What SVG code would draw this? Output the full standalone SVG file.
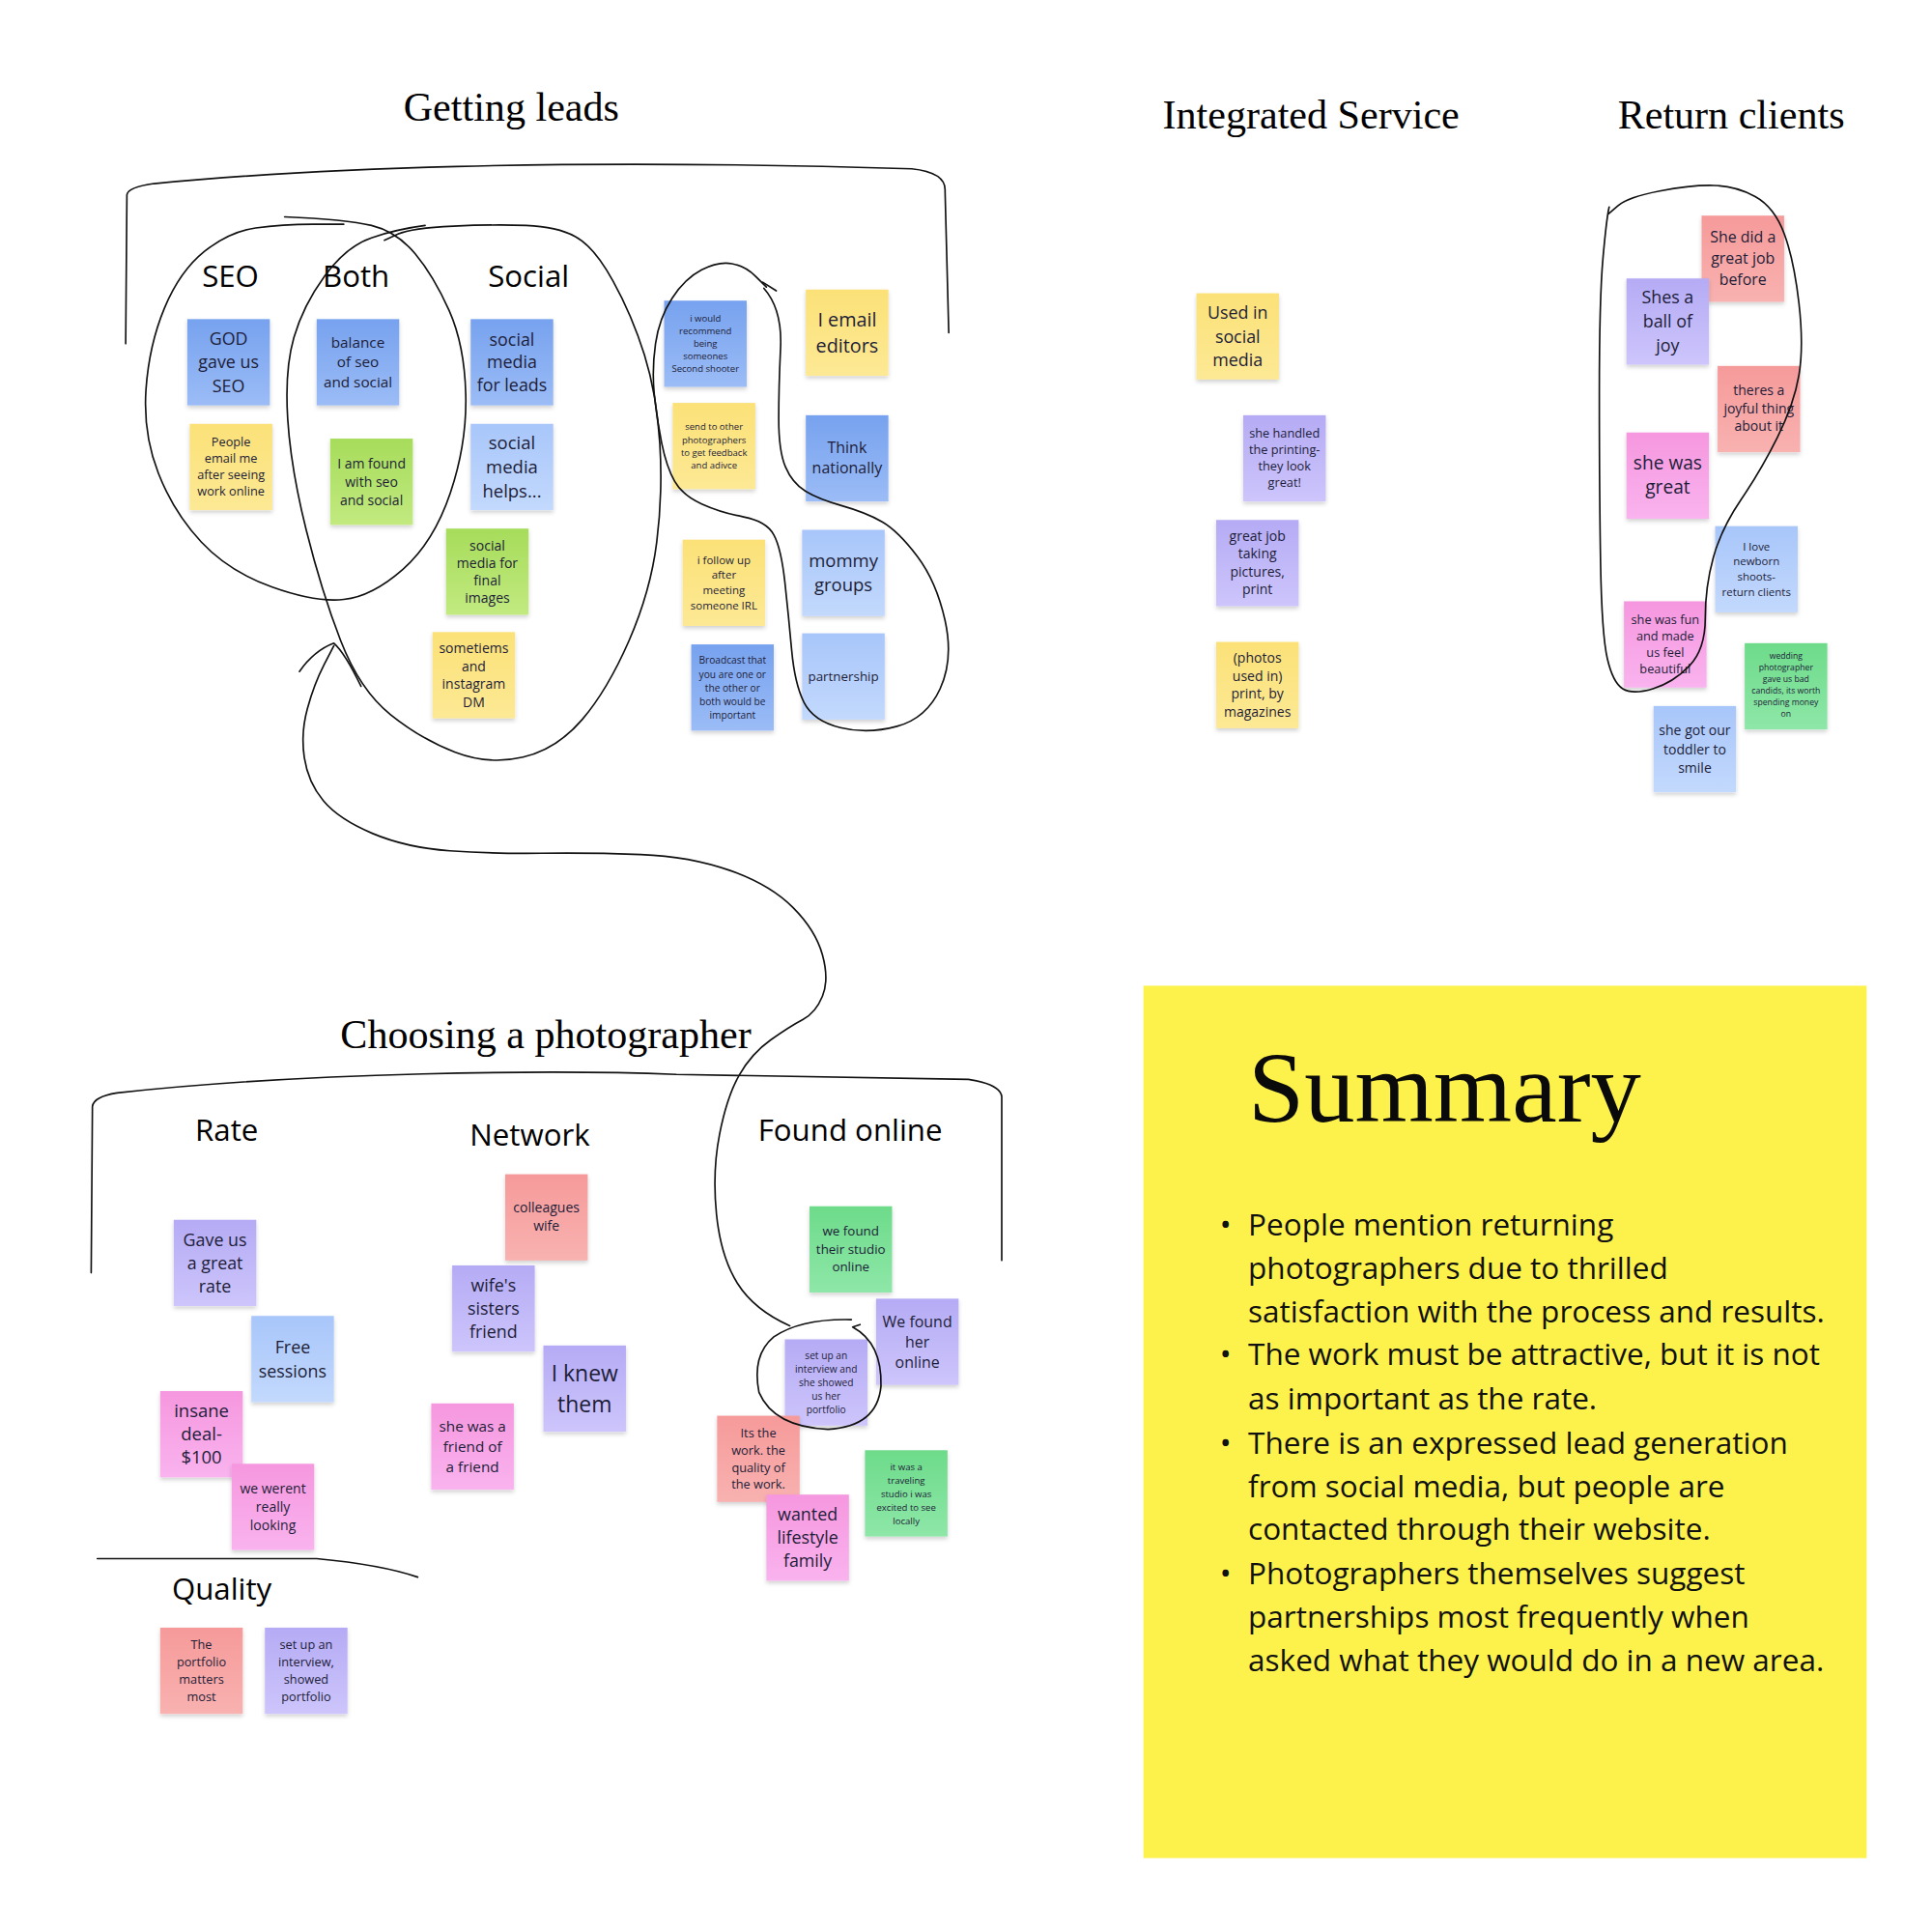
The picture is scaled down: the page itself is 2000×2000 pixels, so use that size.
<svg xmlns="http://www.w3.org/2000/svg" width="2000" height="2000" viewBox="0 0 2000 2000">
<defs>
<style>
.n{filter:url(#sh)}
.t{font-family:"Open Sans","Noto Sans","DejaVu Sans",sans-serif;text-anchor:middle;fill:#1d1d38}
.lb{font-family:"Open Sans","Noto Sans","DejaVu Sans",sans-serif;text-anchor:middle;fill:#000;font-size:24.5px}
.h{font-family:"Liberation Serif","Times New Roman",serif;text-anchor:middle;fill:#000;font-size:33px}
.c{fill:none;stroke:#111;stroke-width:1.3;stroke-linecap:round;stroke-linejoin:round}
.blue{fill:url(#gBlue)}.lblue{fill:url(#gLBlue)}.yel{fill:url(#gYel)}.lime{fill:url(#gLime)}
.mint{fill:url(#gMint)}.pur{fill:url(#gPur)}.sal{fill:url(#gSal)}.pink{fill:url(#gPink)}
.sum{font-family:"Open Sans","Noto Sans","DejaVu Sans",sans-serif;font-size:24.7px;fill:#111}
</style>
<filter id="sh" x="-20%" y="-20%" width="140%" height="150%">
<feDropShadow dx="0" dy="2" stdDeviation="1.6" flood-color="#000" flood-opacity="0.18"/>
</filter>
<linearGradient id="gBlue" x1="0" y1="0" x2="0" y2="1"><stop offset="0" stop-color="#77a2ef"/><stop offset="1" stop-color="#9bbcf6"/></linearGradient>
<linearGradient id="gLBlue" x1="0" y1="0" x2="0" y2="1"><stop offset="0" stop-color="#a8c6fa"/><stop offset="1" stop-color="#c3d9fd"/></linearGradient>
<linearGradient id="gYel" x1="0" y1="0" x2="0" y2="1"><stop offset="0" stop-color="#fbe177"/><stop offset="1" stop-color="#fde995"/></linearGradient>
<linearGradient id="gLime" x1="0" y1="0" x2="0" y2="1"><stop offset="0" stop-color="#a6dc5a"/><stop offset="1" stop-color="#c2ea80"/></linearGradient>
<linearGradient id="gMint" x1="0" y1="0" x2="0" y2="1"><stop offset="0" stop-color="#6ddb8a"/><stop offset="1" stop-color="#8ee7a8"/></linearGradient>
<linearGradient id="gPur" x1="0" y1="0" x2="0" y2="1"><stop offset="0" stop-color="#b5abf5"/><stop offset="1" stop-color="#cdc5fb"/></linearGradient>
<linearGradient id="gSal" x1="0" y1="0" x2="0" y2="1"><stop offset="0" stop-color="#f69a9a"/><stop offset="1" stop-color="#f8b2b0"/></linearGradient>
<linearGradient id="gPink" x1="0" y1="0" x2="0" y2="1"><stop offset="0" stop-color="#f697df"/><stop offset="1" stop-color="#f9b3ee"/></linearGradient>
</defs>
<rect width="2000" height="2000" fill="#fff"/>
<g transform="scale(1.27551)">

<g id="headings">
<text class="h" x="415" y="98">Getting leads</text>
<text class="h" x="1064" y="104">Integrated Service</text>
<text class="h" x="1405" y="104">Return clients</text>
<text class="h" x="443" y="851">Choosing a photographer</text>
</g>

<g id="labels">
<text class="lb" x="187" y="233">SEO</text>
<text class="lb" x="289" y="233">Both</text>
<text class="lb" x="429" y="233">Social</text>
<text class="lb" x="184" y="926">Rate</text>
<text class="lb" x="430" y="930">Network</text>
<text class="lb" x="690" y="926">Found online</text>
<text class="lb" x="180" y="1298">Quality</text>
</g>

<g id="n-god"><rect class="n blue" x="152" y="259" width="67" height="70"/><text class="t" font-size="14"><tspan x="185.5" y="280">GOD</tspan><tspan x="185.5" dy="19">gave us</tspan><tspan x="185.5" dy="19">SEO</tspan></text></g>
<g id="n-people"><rect class="n yel" x="154" y="344" width="67" height="70"/><text class="t" font-size="10"><tspan x="187.5" y="362">People</tspan><tspan x="187.5" dy="13.5">email me</tspan><tspan x="187.5" dy="13.5">after seeing</tspan><tspan x="187.5" dy="13.5">work online</tspan></text></g>
<g id="n-balance"><rect class="n blue" x="257" y="259" width="67" height="70"/><text class="t" font-size="12"><tspan x="290.5" y="282">balance</tspan><tspan x="290.5" dy="16">of seo</tspan><tspan x="290.5" dy="16">and social</tspan></text></g>
<g id="n-found"><rect class="n lime" x="268" y="356" width="67" height="70"/><text class="t" font-size="11"><tspan x="301.5" y="380">I am found</tspan><tspan x="301.5" dy="15">with seo</tspan><tspan x="301.5" dy="15">and social</tspan></text></g>
<g id="n-smleads"><rect class="n blue" x="382" y="259" width="67" height="70"/><text class="t" font-size="14"><tspan x="415.5" y="280.5">social</tspan><tspan x="415.5" dy="18.5">media</tspan><tspan x="415.5" dy="18.5">for leads</tspan></text></g>
<g id="n-smhelps"><rect class="n lblue" x="382" y="344" width="67" height="70"/><text class="t" font-size="14.5"><tspan x="415.5" y="364.5">social</tspan><tspan x="415.5" dy="19.5">media</tspan><tspan x="415.5" dy="19.5">helps...</tspan></text></g>
<g id="n-smfinal"><rect class="n lime" x="362" y="429" width="67" height="70"/><text class="t" font-size="11"><tspan x="395.5" y="447">social</tspan><tspan x="395.5" dy="14">media for</tspan><tspan x="395.5" dy="14">final</tspan><tspan x="395.5" dy="14">images</tspan></text></g>
<g id="n-insta"><rect class="n yel" x="351" y="513" width="67" height="70"/><text class="t" font-size="11"><tspan x="384.5" y="530">sometiems</tspan><tspan x="384.5" dy="14.5">and</tspan><tspan x="384.5" dy="14.5">instagram</tspan><tspan x="384.5" dy="14.5">DM</tspan></text></g>
<g id="n-second"><rect class="n blue" x="539" y="244" width="67" height="70"/><text class="t" font-size="7.5"><tspan x="572.5" y="261">i would</tspan><tspan x="572.5" dy="10.2">recommend</tspan><tspan x="572.5" dy="10.2">being</tspan><tspan x="572.5" dy="10.2">someones</tspan><tspan x="572.5" dy="10.2">Second shooter</tspan></text></g>
<g id="n-send"><rect class="n yel" x="546" y="327" width="67" height="70"/><text class="t" font-size="7.5"><tspan x="579.5" y="349">send to other</tspan><tspan x="579.5" dy="10.5">photographers</tspan><tspan x="579.5" dy="10.5">to get feedback</tspan><tspan x="579.5" dy="10.5">and adivce</tspan></text></g>
<g id="n-email"><rect class="n yel" x="654" y="235" width="67" height="70"/><text class="t" font-size="15.5"><tspan x="687.5" y="265">I email</tspan><tspan x="687.5" dy="21">editors</tspan></text></g>
<g id="n-think"><rect class="n blue" x="654" y="337" width="67" height="70"/><text class="t" font-size="12.5"><tspan x="687.5" y="368">Think</tspan><tspan x="687.5" dy="16">nationally</tspan></text></g>
<g id="n-follow"><rect class="n yel" x="554" y="438" width="67" height="70"/><text class="t" font-size="9"><tspan x="587.5" y="457.5">i follow up</tspan><tspan x="587.5" dy="12.5">after</tspan><tspan x="587.5" dy="12.5">meeting</tspan><tspan x="587.5" dy="12.5">someone IRL</tspan></text></g>
<g id="n-mommy"><rect class="n lblue" x="651" y="430" width="67" height="70"/><text class="t" font-size="14.5"><tspan x="684.5" y="460.5">mommy</tspan><tspan x="684.5" dy="19">groups</tspan></text></g>
<g id="n-broadcast"><rect class="n blue" x="561" y="523" width="67" height="70"/><text class="t" font-size="8"><tspan x="594.5" y="539">Broadcast that</tspan><tspan x="594.5" dy="11">you are one or</tspan><tspan x="594.5" dy="11">the other or</tspan><tspan x="594.5" dy="11">both would be</tspan><tspan x="594.5" dy="11">important</tspan></text></g>
<g id="n-partner"><rect class="n lblue" x="651" y="514" width="67" height="70"/><text class="t" font-size="10.5" x="684.5" y="552.5">partnership</text></g>

<g id="n-usedsocial"><rect class="n yel" x="971" y="238" width="67" height="70"/><text class="t" font-size="14"><tspan x="1004.5" y="258.5">Used in</tspan><tspan x="1004.5" dy="19.5">social</tspan><tspan x="1004.5" dy="19.5">media</tspan></text></g>
<g id="n-printing"><rect class="n pur" x="1009" y="337" width="67" height="70"/><text class="t" font-size="10"><tspan x="1042.5" y="355">she handled</tspan><tspan x="1042.5" dy="13.5">the printing-</tspan><tspan x="1042.5" dy="13.5">they look</tspan><tspan x="1042.5" dy="13.5">great!</tspan></text></g>
<g id="n-greatjob"><rect class="n pur" x="987" y="422" width="67" height="70"/><text class="t" font-size="11"><tspan x="1020.5" y="439">great job</tspan><tspan x="1020.5" dy="14.5">taking</tspan><tspan x="1020.5" dy="14.5">pictures,</tspan><tspan x="1020.5" dy="14.5">print</tspan></text></g>
<g id="n-magazines"><rect class="n yel" x="987" y="521" width="67" height="70"/><text class="t" font-size="11"><tspan x="1020.5" y="538">(photos</tspan><tspan x="1020.5" dy="14.5">used in)</tspan><tspan x="1020.5" dy="14.5">print, by</tspan><tspan x="1020.5" dy="14.5">magazines</tspan></text></g>

<g id="n-didgreat"><rect class="n sal" x="1381" y="175" width="67" height="70"/><text class="t" font-size="12.5"><tspan x="1414.5" y="197">She did a</tspan><tspan x="1414.5" dy="17">great job</tspan><tspan x="1414.5" dy="17">before</tspan></text></g>
<g id="n-balljoy"><rect class="n pur" x="1320" y="226" width="67" height="70"/><text class="t" font-size="14"><tspan x="1353.5" y="246.5">Shes a</tspan><tspan x="1353.5" dy="19.5">ball of</tspan><tspan x="1353.5" dy="19.5">joy</tspan></text></g>
<g id="n-joyful"><rect class="n sal" x="1394" y="297" width="67" height="70"/><text class="t" font-size="11"><tspan x="1427.5" y="321">theres a</tspan><tspan x="1427.5" dy="14.5">joyful thing</tspan><tspan x="1427.5" dy="14.5">about it</tspan></text></g>
<g id="n-wasgreat"><rect class="n pink" x="1320" y="351" width="67" height="70"/><text class="t" font-size="15"><tspan x="1353.5" y="381">she was</tspan><tspan x="1353.5" dy="20">great</tspan></text></g>
<g id="n-newborn"><rect class="n lblue" x="1392" y="427" width="67" height="70"/><text class="t" font-size="9"><tspan x="1425.5" y="446.5">I love</tspan><tspan x="1425.5" dy="12.3">newborn</tspan><tspan x="1425.5" dy="12.3">shoots-</tspan><tspan x="1425.5" dy="12.3">return clients</tspan></text></g>
<g id="n-fun"><rect class="n pink" x="1318" y="488" width="67" height="70"/><text class="t" font-size="10"><tspan x="1351.5" y="506.5">she was fun</tspan><tspan x="1351.5" dy="13.3">and made</tspan><tspan x="1351.5" dy="13.3">us feel</tspan><tspan x="1351.5" dy="13.3">beautiful</tspan></text></g>
<g id="n-wedding"><rect class="n mint" x="1416" y="522" width="67" height="70"/><text class="t" font-size="6.8"><tspan x="1449.5" y="535">wedding</tspan><tspan x="1449.5" dy="9.3">photographer</tspan><tspan x="1449.5" dy="9.3">gave us bad</tspan><tspan x="1449.5" dy="9.3">candids, its worth</tspan><tspan x="1449.5" dy="9.3">spending money</tspan><tspan x="1449.5" dy="9.3">on</tspan></text></g>
<g id="n-toddler"><rect class="n lblue" x="1342" y="573" width="67" height="70"/><text class="t" font-size="11"><tspan x="1375.5" y="597">she got our</tspan><tspan x="1375.5" dy="15">toddler to</tspan><tspan x="1375.5" dy="15">smile</tspan></text></g>

<g id="n-rate"><rect class="n pur" x="141" y="990" width="67" height="70"/><text class="t" font-size="14"><tspan x="174.5" y="1011">Gave us</tspan><tspan x="174.5" dy="19">a great</tspan><tspan x="174.5" dy="19">rate</tspan></text></g>
<g id="n-free"><rect class="n lblue" x="204" y="1068" width="67" height="70"/><text class="t" font-size="14"><tspan x="237.5" y="1098">Free</tspan><tspan x="237.5" dy="20">sessions</tspan></text></g>
<g id="n-insane"><rect class="n pink" x="130" y="1129" width="67" height="70"/><text class="t" font-size="14.5"><tspan x="163.5" y="1150">insane</tspan><tspan x="163.5" dy="19">deal-</tspan><tspan x="163.5" dy="19">$100</tspan></text></g>
<g id="n-werent"><rect class="n pink" x="188" y="1188" width="67" height="70"/><text class="t" font-size="11"><tspan x="221.5" y="1212">we werent</tspan><tspan x="221.5" dy="15">really</tspan><tspan x="221.5" dy="15">looking</tspan></text></g>
<g id="n-portfolio"><rect class="n sal" x="130" y="1321" width="67" height="70"/><text class="t" font-size="10"><tspan x="163.5" y="1338">The</tspan><tspan x="163.5" dy="14.3">portfolio</tspan><tspan x="163.5" dy="14.3">matters</tspan><tspan x="163.5" dy="14.3">most</tspan></text></g>
<g id="n-interview1"><rect class="n pur" x="215" y="1321" width="67" height="70"/><text class="t" font-size="10"><tspan x="248.5" y="1338">set up an</tspan><tspan x="248.5" dy="14.3">interview,</tspan><tspan x="248.5" dy="14.3">showed</tspan><tspan x="248.5" dy="14.3">portfolio</tspan></text></g>
<g id="n-colleagues"><rect class="n sal" x="410" y="953" width="67" height="70"/><text class="t" font-size="11"><tspan x="443.5" y="984">colleagues</tspan><tspan x="443.5" dy="15">wife</tspan></text></g>
<g id="n-sisters"><rect class="n pur" x="367" y="1027" width="67" height="70"/><text class="t" font-size="14"><tspan x="400.5" y="1048">wife's</tspan><tspan x="400.5" dy="19">sisters</tspan><tspan x="400.5" dy="19">friend</tspan></text></g>
<g id="n-knew"><rect class="n pur" x="441" y="1092" width="67" height="70"/><text class="t" font-size="18"><tspan x="474.5" y="1121">I knew</tspan><tspan x="474.5" dy="25">them</tspan></text></g>
<g id="n-friend"><rect class="n pink" x="350" y="1139" width="67" height="70"/><text class="t" font-size="12"><tspan x="383.5" y="1162">she was a</tspan><tspan x="383.5" dy="16.5">friend of</tspan><tspan x="383.5" dy="16.5">a friend</tspan></text></g>
<g id="n-studio"><rect class="n mint" x="657" y="979" width="67" height="70"/><text class="t" font-size="10.5"><tspan x="690.5" y="1003">we found</tspan><tspan x="690.5" dy="14.5">their studio</tspan><tspan x="690.5" dy="14.5">online</tspan></text></g>
<g id="n-herOnline"><rect class="n pur" x="711" y="1054" width="67" height="70"/><text class="t" font-size="12.5"><tspan x="744.5" y="1077">We found</tspan><tspan x="744.5" dy="16.5">her</tspan><tspan x="744.5" dy="16.5">online</tspan></text></g>
<g id="n-interview2"><rect class="n pur" x="637" y="1087" width="67" height="70"/><text class="t" font-size="8"><tspan x="670.5" y="1103">set up an</tspan><tspan x="670.5" dy="11">interview and</tspan><tspan x="670.5" dy="11">she showed</tspan><tspan x="670.5" dy="11">us her</tspan><tspan x="670.5" dy="11">portfolio</tspan></text></g>
<g id="n-quality"><rect class="n sal" x="582" y="1149" width="67" height="70"/><text class="t" font-size="10"><tspan x="615.5" y="1166.5">Its the</tspan><tspan x="615.5" dy="14">work. the</tspan><tspan x="615.5" dy="14">quality of</tspan><tspan x="615.5" dy="14">the work.</tspan></text></g>
<g id="n-traveling"><rect class="n mint" x="702" y="1177" width="67" height="70"/><text class="t" font-size="7.5"><tspan x="735.5" y="1193">it was a</tspan><tspan x="735.5" dy="11">traveling</tspan><tspan x="735.5" dy="11">studio i was</tspan><tspan x="735.5" dy="11">excited to see</tspan><tspan x="735.5" dy="11">locally</tspan></text></g>
<g id="n-lifestyle"><rect class="n pink" x="622" y="1213" width="67" height="70"/><text class="t" font-size="14"><tspan x="655.5" y="1234">wanted</tspan><tspan x="655.5" dy="19">lifestyle</tspan><tspan x="655.5" dy="19">family</tspan></text></g>

<g id="connectors">
<path class="c" d="M102,279 L103,158 Q104,152 125,149 C250,137 450,128 740,137 Q768,140 767,155 L770,270"/>
<path class="c" d="M279,182 L254,182 Q229,182 207.5,185 Q186,188 166,204 Q146,220 133.5,250 Q121,280 118.5,316 Q116,352 128.5,384 Q141,416 163.5,440 Q186,464 221,476.5 Q256,489 279,486.5 Q302,484 327,462 Q352,440 365.5,400 Q379,360 378,320 Q377,280 364.5,252 Q352,224 337,206 Q322,188 301.5,183 Q281,178 231,176"/>
<path class="c" d="M312,195 L323,190 Q334,185 368,183.5 Q402,182 427,183 Q452,184 467,192 Q482,200 497.5,228 Q513,256 523,288 Q533,320 535.5,360 Q538,400 533,440 Q528,480 510.5,520 Q493,560 472.5,584 Q452,608 424.5,614.5 Q397,621 369.5,610.5 Q342,600 317,580 Q292,560 276.5,520 Q261,480 248.5,430 Q236,380 233.5,340 Q231,300 238.5,274 Q246,248 263.5,224 Q281,200 301.5,193 Q322,186 345,183"/>
<path class="c" d="M243,545 Q255,528 271,522 Q280,530 293,557"/>
<path class="c" d="M271,524 L263,539.5 Q255,555 249.5,575 Q244,595 247,615 Q250,635 262.5,650 Q275,665 302.5,676.5 Q330,688 365,690.5 Q400,693 440,692.5 Q480,692 520,693.5 Q560,695 592.5,706.5 Q625,718 643.5,736.5 Q662,755 667.5,775 Q673,795 667.5,808.5 Q662,822 651.5,827.5 Q641,833 625.5,844 Q610,855 600,872.5 Q590,890 584,920.5 Q578,951 581.5,985.5 Q585,1020 598.5,1041.5 Q612,1063 641,1076"/>
<path class="c" d="M622,233 L613.5,224.5 Q605,216 594,214 Q583,212 569.5,219 Q556,226 545.5,242 Q535,258 532,279 Q529,300 531,320 Q533,340 537,359.5 Q541,379 547.5,390.5 Q554,402 569.5,409 Q585,416 603.5,419.5 Q622,423 628,434 Q634,445 637,472.5 Q640,500 642.5,527.5 Q645,555 652.5,570 Q660,585 682,590.5 Q704,596 728,589.5 Q752,583 763,559 Q774,535 767,503.5 Q760,472 744.5,451.5 Q729,431 716,423.5 Q703,416 683.5,410.5 Q664,405 653.5,398.5 Q643,392 637.5,379 Q632,366 632,340 Q632,314 633.5,282.5 Q635,251 620,234"/>
<path class="c" d="M619,229 L630,236"/>
<path class="c" d="M1305,174 L1313,167 Q1321,160 1347,155 Q1373,150 1391,150.5 Q1409,151 1424.5,159.5 Q1440,168 1448,189.5 Q1456,211 1460,246 Q1464,281 1460,304.5 Q1456,328 1442.5,355 Q1429,382 1413,405.5 Q1397,429 1390.5,452.5 Q1384,476 1384,501.5 Q1384,527 1371,540.5 Q1358,554 1341.5,559 Q1325,564 1317,559 Q1309,554 1304.5,534.5 Q1300,515 1299,456.5 Q1298,398 1298,320 Q1298,242 1301,209 Q1304,176 1306,168"/>
<path class="c" d="M74,1033 L75,898 Q76,890 95,887 C250,870 450,868 549,872 L786,876 Q812,880 813,890 L813,1023"/>
<path class="c" d="M79,1265 L257,1265 Q310,1270 339,1280"/>
<path class="c" d="M691,1071 Q650,1070 628,1085 Q610,1100 616,1130 Q628,1158 672,1160 Q712,1158 715,1125 Q716,1090 692,1077 L698,1075"/>
</g>

<g id="summary">
<rect x="928" y="800" width="587" height="708" fill="#fdf24c"/>
<text x="1013" y="910" style="font-family:'Liberation Serif','Times New Roman',serif;font-size:82px;fill:#0a0a0a">Summary</text>
<g class="sum">
<text x="990" y="1003">•</text><text x="990" y="1108">•</text><text x="990" y="1180">•</text><text x="990" y="1286">•</text>
<text x="1013" y="1003">People mention returning</text>
<text x="1013" y="1038">photographers due to thrilled</text>
<text x="1013" y="1073">satisfaction with the process and results.</text>
<text x="1013" y="1108">The work must be attractive, but it is not</text>
<text x="1013" y="1144">as important as the rate.</text>
<text x="1013" y="1180">There is an expressed lead generation</text>
<text x="1013" y="1215">from social media, but people are</text>
<text x="1013" y="1250">contacted through their website.</text>
<text x="1013" y="1286">Photographers themselves suggest</text>
<text x="1013" y="1321">partnerships most frequently when</text>
<text x="1013" y="1356">asked what they would do in a new area.</text>
</g>
</g>

</g>
</svg>
